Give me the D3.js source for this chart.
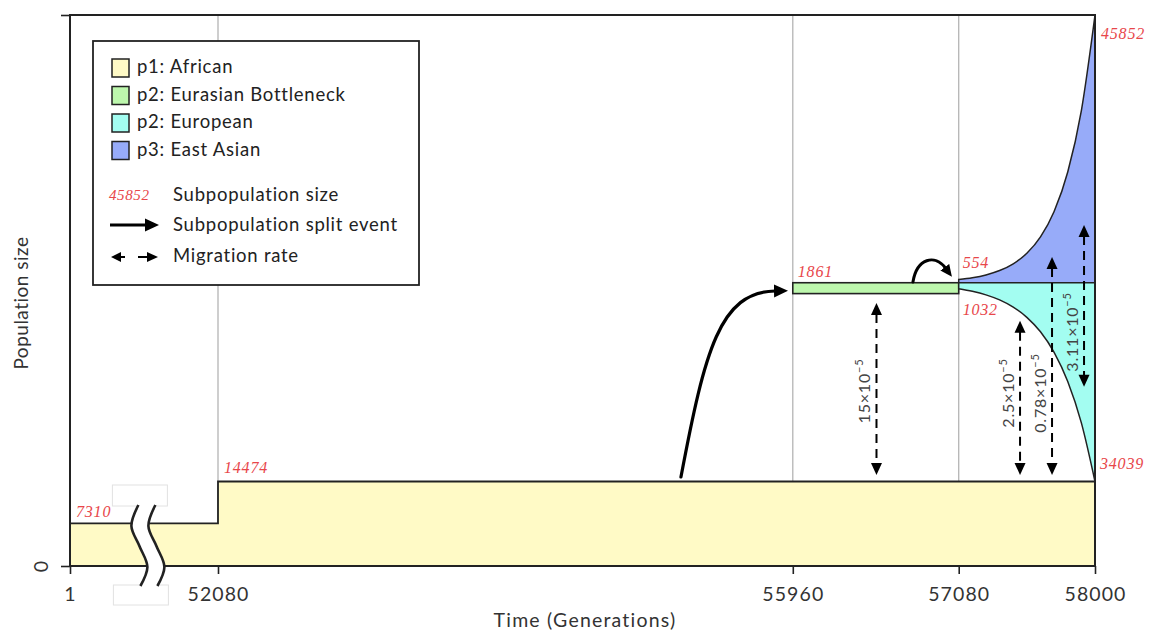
<!DOCTYPE html>
<html><head><meta charset="utf-8">
<script src="https://cdn.jsdelivr.net/npm/d3@7"></script>
<style>body{margin:0;background:#fff} svg{display:block}</style>
</head><body><svg id="c" width="1150" height="632"></svg>
<script>
// ---- data ----
const timeTicks = [1, 52080, 55960, 57080, 58000];
const timeTickLabels = ["1", "52080", "55960", "57080", "58000"];
const africanTimes = [1, 52080, 58000];
const africanSizes = [7310, 14474, 14474];
const bottleneckTimes = [55960, 57080];
const bottleneckSize = 1861;
const growthTimes = [57080, 57172, 57264, 57356, 57448, 57540, 57632, 57724, 57816, 57908, 58000];
const europeanSizes = [1032, 1464, 2077, 2946, 4178, 5927, 8408, 11926, 16918, 23997, 34039];
const eastAsianSizes = [554, 862, 1340, 2084, 3241, 5040, 7839, 12191, 18959, 29484, 45852];
const legendLabels = ["p1: African", "p2: Eurasian Bottleneck", "p2: European", "p3: East Asian"];
const legendColors = ["#fffac6", "#bdf7ad", "#a3fdf1", "#97abf9"];
const legendExtra = ["Subpopulation size", "Subpopulation split event", "Migration rate"];
const migrationRates = ["15×10", "2.5×10", "0.78×10", "3.11×10"];
const migrationExponent = "−5";
const migrationTimes = [56525, 57494, 57710, 57926];
const migrationLow = [15600, 15600, 15600, 30700];
const migrationHigh = [45040, 42010, 52920, 58400];
const migrationLabelAt = [29970, 29630, 29630, 40080];
// split-event arrows: start, control1, control2, end (generation, size-axis value)
const splitArrowBig = [[55205, 15242], [55367, 36992], [55468, 46925], [55840, 47097]];
const splitArrowSmall = [[56771, 48638], [56798, 52748], [56920, 53433], [56990, 51035]];

// ---- scales ----
const svg = d3.select("#c");
const x = d3.scaleLinear().domain([timeTicks[0], timeTicks[1], timeTicks[4]]).range([70, 218, 1095]);
const center = africanSizes[2] + europeanSizes[europeanSizes.length - 1];
const yMax = center + eastAsianSizes[eastAsianSizes.length - 1];
const y = d3.scaleLinear().domain([0, yMax]).range([566, 15]);

const INK = "#222";
const RED = "#e8464a";
const sans = "Lato, 'Open Sans', sans-serif";
const serif = "'Liberation Serif', 'DejaVu Serif', serif";

const defs = svg.append("defs");
defs.append("marker").attr("id", "head").attr("markerUnits", "userSpaceOnUse")
  .attr("viewBox", "0 -7 14 14").attr("refX", 1).attr("refY", 0)
  .attr("markerWidth", 14).attr("markerHeight", 14).attr("orient", "auto")
  .append("path").attr("d", "M0,-6.5L14,0L0,6.5Z").attr("fill", "#000");
defs.append("marker").attr("id", "headS").attr("markerUnits", "userSpaceOnUse")
  .attr("viewBox", "0 -6 12 12").attr("refX", 1).attr("refY", 0)
  .attr("markerWidth", 12).attr("markerHeight", 12).attr("orient", "auto")
  .append("path").attr("d", "M0,-5.5L12,0L0,5.5Z").attr("fill", "#000");

// ---- grid lines ----
[52080, 55960, 57080].forEach(t => {
  svg.append("line").attr("x1", x(t)).attr("x2", x(t)).attr("y1", y(yMax)).attr("y2", y(0))
    .attr("stroke", "#b4b4b4").attr("stroke-width", 1.3);
});

// ---- p1 African ----
const african = d3.area().curve(d3.curveStepAfter)
  .x((d, i) => x(africanTimes[i])).y0(y(0)).y1(d => y(d));
svg.append("path").attr("d", african(africanSizes))
  .attr("fill", legendColors[0]).attr("stroke", INK).attr("stroke-width", 1.8);

// ---- bottleneck ----
svg.append("rect").attr("x", x(bottleneckTimes[0])).attr("y", y(center))
  .attr("width", x(bottleneckTimes[1]) - x(bottleneckTimes[0]))
  .attr("height", y(center - bottleneckSize) - y(center))
  .attr("fill", legendColors[1]).attr("stroke", INK).attr("stroke-width", 1.6);

// ---- growth ----
const eastArea = d3.area().curve(d3.curveMonotoneX)
  .x((d, i) => x(growthTimes[i])).y0(y(center)).y1(d => y(center + d));
const euroArea = d3.area().curve(d3.curveMonotoneX)
  .x((d, i) => x(growthTimes[i])).y0(y(center)).y1(d => y(center - d));
svg.append("path").attr("d", eastArea(eastAsianSizes))
  .attr("fill", legendColors[3]).attr("stroke", INK).attr("stroke-width", 1.5);
svg.append("path").attr("d", euroArea(europeanSizes))
  .attr("fill", legendColors[2]).attr("stroke", INK).attr("stroke-width", 1.5);

// ---- frame ----
svg.append("rect").attr("x", x(1)).attr("y", y(yMax)).attr("width", x(58000) - x(1))
  .attr("height", y(0) - y(yMax)).attr("fill", "none").attr("stroke", INK).attr("stroke-width", 2);

// ---- axes ----
const xAxis = svg.append("g").attr("transform", `translate(0,${y(0)})`)
  .call(d3.axisBottom(x).tickValues(timeTicks).tickFormat((d, i) => timeTickLabels[i])
    .tickSize(8).tickSizeOuter(0).tickPadding(13));
xAxis.select(".domain").remove();
xAxis.selectAll(".tick line").attr("stroke", INK).attr("stroke-width", 1.6);
xAxis.selectAll(".tick text").attr("font-family", sans).attr("font-size", 19.5)
  .attr("letter-spacing", 1.1).attr("fill", "#333");

const yAxis = svg.append("g").attr("transform", `translate(${x(1)},0)`)
  .call(d3.axisLeft(y).tickValues([0, yMax]).tickFormat(d => d === 0 ? "0" : "")
    .tickSize(9).tickSizeOuter(0));
yAxis.select(".domain").remove();
yAxis.selectAll(".tick line").attr("stroke", INK).attr("stroke-width", 1.6);
yAxis.selectAll(".tick text").attr("font-family", sans).attr("font-size", 19.5).attr("fill", "#333")
  .attr("x", null).attr("dy", null).attr("text-anchor", "middle")
  .attr("transform", "translate(-22,0) rotate(-90)");

svg.append("text").attr("x", 585).attr("y", 627).attr("text-anchor", "middle")
  .attr("font-family", sans).attr("font-size", 19.5).attr("letter-spacing", 1.2)
  .attr("fill", "#333").text("Time (Generations)");
svg.append("text").attr("transform", `translate(28,303) rotate(-90)`)
  .attr("text-anchor", "middle").attr("font-family", sans).attr("font-size", 19)
  .attr("letter-spacing", 0.5).attr("fill", "#333").text("Population size");

// ---- axis break ----
const bx = x(1) + (x(52080) - x(1)) * 0.55;
const wave = [[-13, 505], [-20, 526], [-12, 546], [-4, 567], [-11, 586]];
const waveLine = d3.line().curve(d3.curveCatmullRom).x(d => bx + d[0]).y(d => d[1]);
const gap = 17;
svg.append("rect").attr("x", bx - 39).attr("y", 485).attr("width", 55).attr("height", 21)
  .attr("fill", "#fff").attr("stroke", "#e2e2e2");
svg.append("rect").attr("x", bx - 38).attr("y", 585).attr("width", 55).attr("height", 20)
  .attr("fill", "#fff").attr("stroke", "#e2e2e2");
const bandPts = wave.map(p => [p[0], p[1]]).concat(wave.slice().reverse().map(p => [p[0] + gap, p[1]]));
svg.append("path").attr("d", d3.line().curve(d3.curveLinear).x(d => bx + d[0]).y(d => d[1])(bandPts) + "Z")
  .attr("fill", "#fff").attr("stroke", "none");
svg.append("path").attr("d", waveLine(wave)).attr("fill", "none").attr("stroke", INK).attr("stroke-width", 2.6);
svg.append("path").attr("d", waveLine(wave.map(p => [p[0] + gap, p[1]])))
  .attr("fill", "none").attr("stroke", INK).attr("stroke-width", 2.6);

// ---- size labels ----
const sizeLabels = [
  [africanSizes[0], x(1), y(africanSizes[0]), 6, -6],
  [africanSizes[1], x(52080), y(africanSizes[1]), 6, -8],
  [bottleneckSize, x(55960), y(center), 5, -6],
  [eastAsianSizes[0], x(57080), y(center + eastAsianSizes[0]), 4, -11],
  [europeanSizes[0], x(57080), y(center), 4, 32],
  [europeanSizes[europeanSizes.length - 1], x(58000), y(center - europeanSizes[europeanSizes.length - 1]), 5, -12],
  [eastAsianSizes[eastAsianSizes.length - 1], x(58000), y(yMax), 6, 24]
];
sizeLabels.forEach(s => {
  svg.append("text").attr("x", s[1] + s[3]).attr("y", s[2] + s[4])
    .attr("font-family", serif).attr("font-style", "italic").attr("font-size", 16)
    .attr("letter-spacing", 0.8).attr("fill", RED).text(s[0]);
});

// ---- split arrows ----
function bez(p) {
  const q = p.map(d => [x(d[0]), y(d[1])]);
  return `M${q[0]}C${q[1]} ${q[2]} ${q[3]}`;
}
svg.append("path").attr("d", bez(splitArrowBig)).attr("fill", "none").attr("stroke", "#000")
  .attr("stroke-width", 3.2).attr("stroke-linecap", "round").attr("marker-end", "url(#head)");
svg.append("path").attr("d", bez(splitArrowSmall)).attr("fill", "none").attr("stroke", "#000")
  .attr("stroke-width", 3).attr("stroke-linecap", "round").attr("marker-end", "url(#headS)");

// ---- migration arrows ----
function headPath(cx, tipY, dir) {
  const L = 12, W = 5.5;
  return `M${cx},${tipY}L${cx - W},${tipY - dir * L}L${cx + W},${tipY - dir * L}Z`;
}
migrationTimes.forEach((t, i) => {
  const cx = x(t), top = y(migrationHigh[i]), bot = y(migrationLow[i]);
  svg.append("line").attr("x1", cx).attr("x2", cx).attr("y1", top + 11).attr("y2", bot - 11)
    .attr("stroke", "#000").attr("stroke-width", 2).attr("stroke-dasharray", "9,6");
  svg.append("path").attr("d", headPath(cx, top, -1)).attr("fill", "#000");
  svg.append("path").attr("d", headPath(cx, bot, 1)).attr("fill", "#000");
  const t2 = svg.append("text").attr("transform", `translate(${cx - 6},${y(migrationLabelAt[i])}) rotate(-90)`)
    .attr("text-anchor", "middle").attr("font-family", sans).attr("font-size", 16)
    .attr("letter-spacing", 0.8).attr("fill", "#444");
  t2.append("tspan").text(migrationRates[i]);
  t2.append("tspan").attr("dy", -7).attr("font-size", 11).text(migrationExponent);
});

// ---- legend ----
const lg = svg.append("g");
lg.append("rect").attr("x", 93).attr("y", 41).attr("width", 326).attr("height", 244)
  .attr("fill", "#fff").attr("stroke", INK).attr("stroke-width", 1.8);
legendLabels.forEach((l, i) => {
  const by = 73 + i * 27.5;
  lg.append("rect").attr("x", 112).attr("y", by - 14).attr("width", 17).attr("height", 18)
    .attr("fill", legendColors[i]).attr("stroke", INK).attr("stroke-width", 1.5);
  lg.append("text").attr("x", 137).attr("y", by).attr("font-family", sans).attr("font-size", 18.5)
    .attr("letter-spacing", 0.75).attr("fill", INK).text(l);
});
const extraBase = [201, 231, 262];
legendExtra.forEach((l, i) => {
  lg.append("text").attr("x", 173).attr("y", extraBase[i]).attr("font-family", sans).attr("font-size", 18.5)
    .attr("letter-spacing", 0.75).attr("fill", INK).text(l);
});
lg.append("text").attr("x", 109).attr("y", extraBase[0] - 1).attr("font-family", serif)
  .attr("font-style", "italic").attr("font-size", 15).attr("letter-spacing", 0.6).attr("fill", RED)
  .text(eastAsianSizes[eastAsianSizes.length - 1]);
lg.append("line").attr("x1", 110).attr("x2", 146).attr("y1", extraBase[1] - 6).attr("y2", extraBase[1] - 6)
  .attr("stroke", "#000").attr("stroke-width", 3.2).attr("marker-end", "url(#head)");
const my = extraBase[2] - 5;
lg.append("path").attr("d", `M111,${my}L121,${my - 5}L121,${my + 5}Z`).attr("fill", "#000");
lg.append("line").attr("x1", 120).attr("x2", 125).attr("y1", my).attr("y2", my).attr("stroke", "#000").attr("stroke-width", 2);
lg.append("line").attr("x1", 138).attr("x2", 148).attr("y1", my).attr("y2", my).attr("stroke", "#000").attr("stroke-width", 2);
lg.append("path").attr("d", `M158,${my}L147,${my - 5}L147,${my + 5}Z`).attr("fill", "#000");
</script>
</body></html>
